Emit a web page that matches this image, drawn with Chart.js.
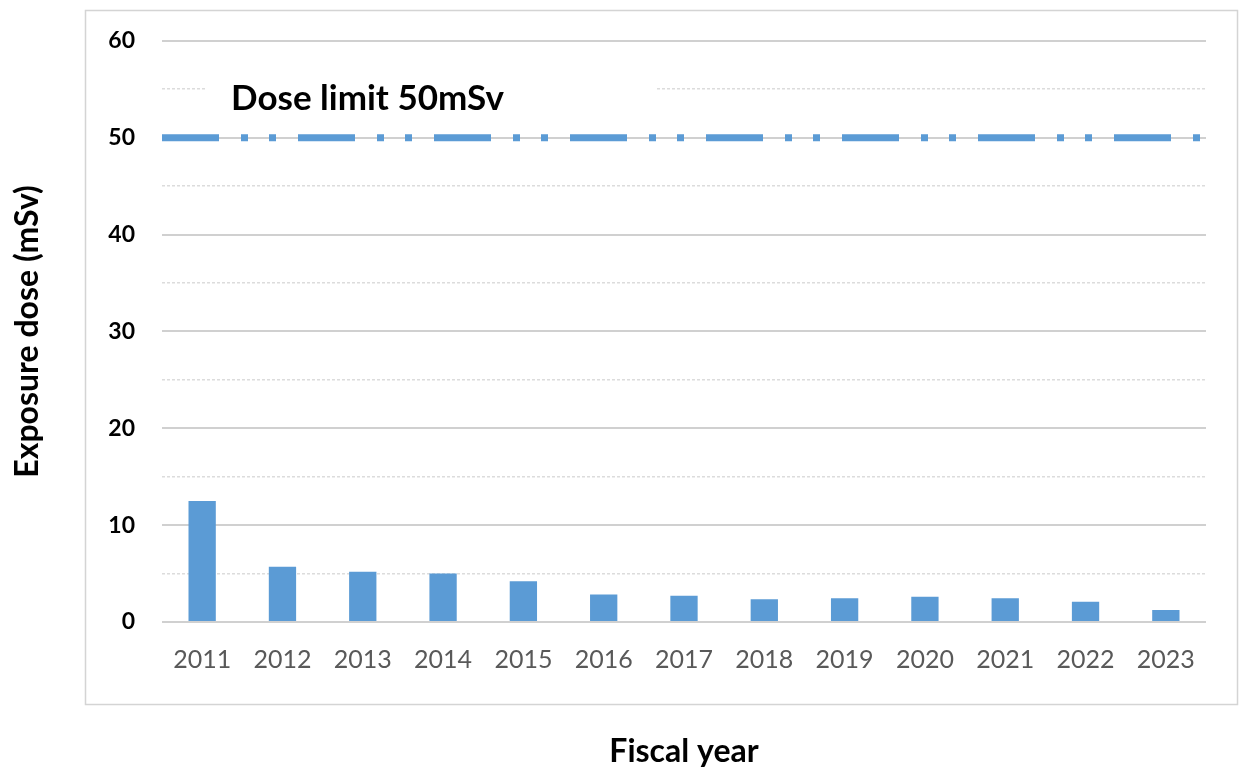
<!DOCTYPE html>
<html>
<head>
<meta charset="utf-8">
<script src="https://cdn.jsdelivr.net/npm/chart.js@4"></script>
<style>
  html, body { margin: 0; padding: 0; background: #fff; }
  #wrap { width: 1239px; height: 771px; position: relative; }
</style>
</head>
<body>
<div id="wrap"><canvas id="myChart" width="1239" height="771"></canvas></div>
<script>
const years = ['2011', '2012', '2013', '2014', '2015', '2016', '2017', '2018', '2019', '2020', '2021', '2022', '2023'];
const doses = [12.5, 5.7, 5.2, 5.0, 4.2, 2.85, 2.7, 2.35, 2.45, 2.6, 2.45, 2.1, 1.25];
const doseLimit = 50;
const yLabels = [0, 10, 20, 30, 40, 50, 60];
const limitText = 'Dose limit 50mSv';

const FONT = 'Lato, "Open Sans", sans-serif';

// light frame around plot + labels, and the limit caption
const framePlugin = {
    id: 'frame',
    beforeDraw(chart) {
        const c = chart.ctx;
        c.save();
        c.fillStyle = '#fff';
        c.fillRect(0, 0, chart.width, chart.height);
        c.strokeStyle = '#d4d4d4';
        c.lineWidth = 1.5;
        c.strokeRect(85.5, 10.5, 1152, 694);
        c.restore();
    },
    afterDraw(chart) {
        const c = chart.ctx;
        const y = chart.scales.y;
        const area = chart.chartArea;
        const top = y.getPixelForValue(doseLimit + 7);
        const bottom = y.getPixelForValue(doseLimit + 1.3);
        c.save();
        c.fillStyle = '#fff';
        c.fillRect(area.left + 44, top, 450, bottom - top);
        c.fillStyle = '#000';
        c.font = 'bold 35px ' + FONT;
        c.textBaseline = 'middle';
        c.fillText(limitText, area.left + 69, y.getPixelForValue(doseLimit + 4));
        c.restore();
    }
};

const ctx = document.getElementById('myChart').getContext('2d');
const myChart = new Chart(ctx, {
    type: 'bar',
    data: {
        labels: years,
        datasets: [{
            type: 'line',
            label: 'Dose limit',
            xAxisID: 'x2',
            data: [{x: 0, y: doseLimit}, {x: 1, y: doseLimit}],
            borderColor: '#5B9BD5',
            borderWidth: 7,
            borderDash: [57, 22, 7, 21, 7, 22],
            borderCapStyle: 'butt',
            pointRadius: 0,
            order: 0
        }, {
            type: 'bar',
            label: 'Exposure dose',
            data: doses,
            backgroundColor: '#5B9BD5',
            grouped: false,
            barPercentage: 0.34,
            categoryPercentage: 1,
            order: 1
        }]
    },
    options: {
        responsive: false,
        animation: false,
        layout: { padding: { top: 40, right: 33, left: 0, bottom: 0 } },
        plugins: { legend: { display: false }, tooltip: { enabled: false } },
        scales: {
            x: {
                grid: { display: false },
                border: { display: false },
                ticks: { color: '#595959', font: { family: FONT, size: 25 }, padding: 15 },
                title: {
                    display: true, text: 'Fiscal year', color: '#000',
                    font: { family: FONT, size: 32, weight: 'bold' },
                    padding: { top: 0, bottom: 0 }
                },
                afterFit(scale) { scale.height = 149; }
            },
            x2: {
                type: 'linear', display: false, offset: false, min: 0, max: 1
            },
            y: {
                min: 0,
                max: 60,
                ticks: {
                    stepSize: 5,
                    color: '#000',
                    padding: 27,
                    font: { family: FONT, size: 23, weight: 'bold' },
                    callback: v => yLabels.includes(v) ? v : ''
                },
                grid: {
                    drawTicks: false,
                    color: c => c.tick && c.tick.value % 10 === 0 ? '#d0d0d0' : '#dcdcdc',
                    lineWidth: c => c.tick && c.tick.value % 10 === 0 ? 2 : 1.5
                },
                border: {
                    display: false,
                    dash: c => c.tick && c.tick.value % 10 !== 0 ? [3, 2] : []
                },
                title: {
                    display: true, text: 'Exposure dose (mSv)', color: '#000',
                    font: { family: FONT, size: 32, weight: 'bold' },
                    padding: { top: 8, bottom: 0 }
                },
                afterFit(scale) { scale.width = 162; }
            }
        }
    },
    plugins: [framePlugin]
});
</script>
</body>
</html>
